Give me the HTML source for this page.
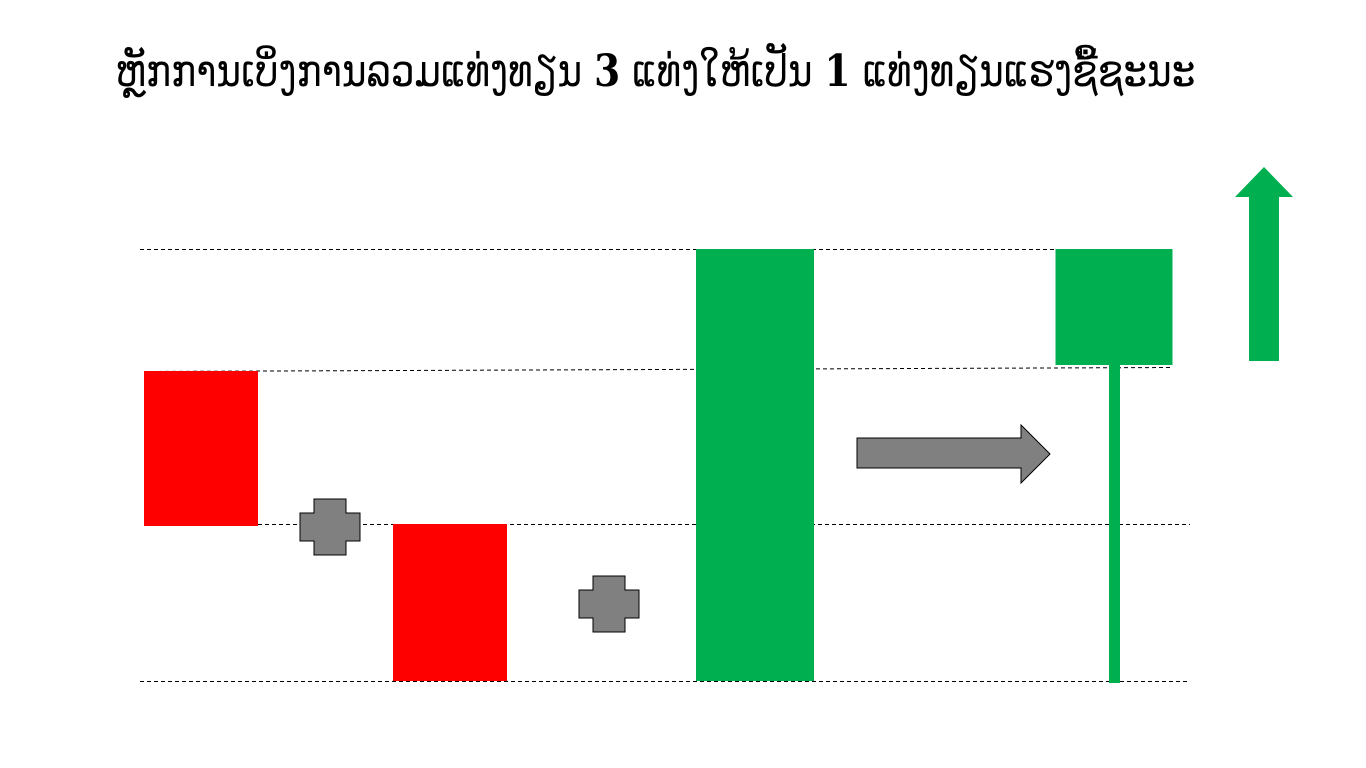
<!DOCTYPE html>
<html><head><meta charset="utf-8">
<style>
html,body{margin:0;padding:0;background:#fff;width:1366px;height:768px;overflow:hidden;}
#title{position:absolute;left:-28px;top:44px;width:1366px;text-align:center;font-family:"DejaVu Serif","DejaVu Sans","Liberation Serif",serif;font-size:44px;line-height:56px;color:#000;white-space:nowrap;font-weight:normal;}
#title span.t{display:inline-block;transform-origin:center;}
svg{position:absolute;left:0;top:0;}
</style></head><body>
<div id="title"><span class="t" id="tt">ຫຼັກການເບິ່ງການລວມແທ່ງທຽນ <b>3</b> ແທ່ງໃຫ້ເປັນ <b>1</b> ແທ່ງທຽນແຮງຊື້ຊະນະ</span></div>
<svg id="chart" width="1366" height="768"></svg>
<script>
// price levels (dashed reference lines)
const levels = [0, 157, 310, 432];
// candles: open, close, low, high
const candleNames = ['red-candle-1','red-candle-2','green-candle-big','green-candle-result'];
const opens  = [310, 157, 0, 316];
const closes = [155, 0, 432, 432];
const lows   = [155, 0, 0, -2];
const highs  = [310, 157, 432, 432];
const colors = ['#ff0000','#ff0000','#00b050','#00b050'];

const NS='http://www.w3.org/2000/svg';
const svg=document.getElementById('chart');
function y(v){return 681 - v;}
function mk(tag,attrs){const e=document.createElementNS(NS,tag);for(const k in attrs)e.setAttribute(k,attrs[k]);svg.appendChild(e);return e;}

levels.forEach((v,i)=>{
  const ext=[[140,1188],[258,1190],[144,1172],[140,1172]][i];
  const l=mk('line',{x1:ext[0],x2:ext[1],y1:y(v)+0.5,y2:y(v)+0.5+(i==2?-4:0),stroke:'#000','stroke-width':1,'stroke-dasharray':'4,3'});
  
  
});
const cx=[201,450,755,1114];
const bw=[114,114,118,117];
opens.forEach((o,i)=>{
  const c=closes[i];
  if(lows[i]<Math.min(o,c)){
    const w=mk('rect',{x:cx[i]-5,y:y(Math.min(o,c)),width:11,height:y(lows[i])-y(Math.min(o,c)),fill:colors[i]});
    
    
  }
  const r=mk('rect',{x:cx[i]-bw[i]/2,y:y(Math.max(o,c)),width:bw[i],height:Math.abs(o-c),fill:colors[i]});
  
  
});
function plus(x,yc){
  const W=30,H=28,iw=16,ih=14;
  const d=`M${x-iw},${yc-H} H${x+iw} V${yc-ih} H${x+W} V${yc+ih} H${x+iw} V${yc+H} H${x-iw} V${yc+ih} H${x-W} V${yc-ih} H${x-iw} Z`;
  const p=mk('path',{d:d,fill:'#808080',stroke:'#000','stroke-width':1});
  
  
}
plus(330,527);plus(609,604);
const ar=mk('path',{d:'M857,438 H1021 V425 L1050,454 L1021,483 V468 H857 Z',fill:'#808080',stroke:'#000','stroke-width':1});


const up=mk('path',{d:'M1249,361 V197 H1235 L1264,167 L1293,197 H1279 V361 Z',fill:'#00b050'});



// fit title width
const tt=document.getElementById('tt');
const w=tt.getBoundingClientRect().width;
tt.style.transform='scaleX('+(1080/w)+')';
</script>
</body></html>
